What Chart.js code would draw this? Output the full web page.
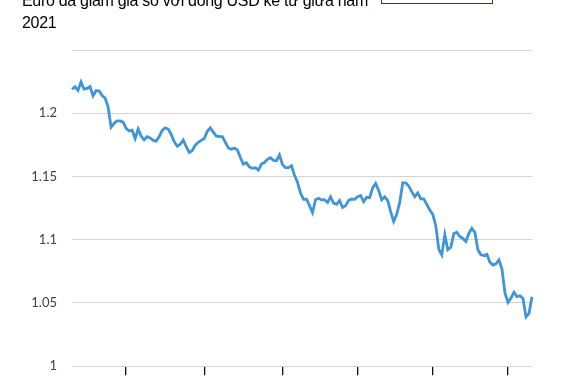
<!DOCTYPE html>
<html>
<head>
<meta charset="utf-8">
<script src="https://cdn.jsdelivr.net/npm/chart.js@4"></script>
<style>
  html, body { margin: 0; padding: 0; background: #fff; overflow: hidden; }
  #wrap { position: relative; width: 564px; height: 381px; overflow: hidden; }
  #title {
    position: absolute; left: 22px; top: -10px;
    font: 16px "Liberation Sans", Arial, sans-serif; line-height: 22px; color: #000;
    letter-spacing: -0.3px; white-space: nowrap;
  }
  #box {
    position: absolute; left: 381px; top: -30px; width: 110px; height: 32px;
    border: 1px solid #2b3b5e;
  }
  canvas { position: absolute; left: 0; top: 0; }
</style>
</head>
<body>
<div id="wrap">
  <!-- canvas is a bit taller than the view; the y axis reserves room below the plot -->
  <canvas id="chart" width="564" height="389"></canvas>
  <div id="title">Euro đã giảm giá so với đồng USD kể từ giữa năm<br>2021</div>
  <div id="box"></div>
</div>
<script>
// EUR/USD, mid-2021 onwards
const eurUsd = [
  1.219, 1.221, 1.218, 1.2248, 1.219, 1.2196, 1.221, 1.2137, 1.2178, 1.2177,
  1.214, 1.212, 1.205, 1.189, 1.192, 1.1939, 1.1939, 1.193, 1.188, 1.186,
  1.1866, 1.18, 1.1875, 1.182, 1.179, 1.1815, 1.1804, 1.1785, 1.178, 1.1816,
  1.1865, 1.1885, 1.1874, 1.1832, 1.1775, 1.1738, 1.1755, 1.1788, 1.1735, 1.169,
  1.1705, 1.1748, 1.177, 1.1785, 1.18, 1.1858, 1.1885, 1.185, 1.1819, 1.1816,
  1.1815, 1.177, 1.1725, 1.1715, 1.1725, 1.171, 1.165, 1.1598, 1.1608, 1.1576,
  1.1565, 1.1569, 1.155, 1.1598, 1.161, 1.1636, 1.1648, 1.1627, 1.1625, 1.167,
  1.1595, 1.157, 1.157, 1.1585, 1.151, 1.1455, 1.137, 1.132, 1.132, 1.127,
  1.1215, 1.1317, 1.1328, 1.1315, 1.1317, 1.1295, 1.1339, 1.129, 1.128, 1.131,
  1.1255, 1.127, 1.1312, 1.1322, 1.1319, 1.134, 1.135, 1.130, 1.1335, 1.1332,
  1.141, 1.1445, 1.139, 1.1315, 1.1339, 1.131, 1.122, 1.1145, 1.120, 1.1295,
  1.145, 1.145, 1.1425, 1.138, 1.134, 1.137, 1.1323, 1.1323, 1.128, 1.1235,
  1.12, 1.1111, 1.0925, 1.088, 1.104, 1.0921, 1.094, 1.105, 1.106, 1.1025,
  1.101, 1.0986, 1.105, 1.109, 1.1058, 1.092, 1.0881, 1.0875, 1.0885, 1.0822,
  1.080, 1.081, 1.084, 1.077, 1.058, 1.0505, 1.0538, 1.0585, 1.055, 1.0557,
  1.0535, 1.039, 1.0418, 1.055
];
const days = eurUsd.map((_, i) => i);
// days that carry a tick mark on the time axis
const tickDays = [18, 44, 70, 95, 120, 145];
const yTicks = [1, 1.05, 1.1, 1.15, 1.2];

new Chart(document.getElementById('chart'), {
  type: 'line',
  data: {
    labels: days,
    datasets: [{
      data: eurUsd,
      borderColor: '#3f95d8',
      borderWidth: 2.8,
      pointRadius: 0,
      tension: 0,
      fill: false
    }]
  },
  options: {
    responsive: false,
    animation: false,
    layout: { padding: { top: 50, right: 32, left: 0, bottom: 0 } },
    plugins: { legend: { display: false }, tooltip: { enabled: false } },
    scales: {
      x: {
        type: 'category',
        border: { display: false },
        grid: {
          drawOnChartArea: false,
          tickLength: 9,
          lineWidth: 1.3,
          color: ctx => tickDays.includes(ctx.index) ? '#111' : 'rgba(0,0,0,0)'
        },
        ticks: { autoSkip: false, maxRotation: 0, callback: () => '' },
        afterFit: s => { s.height = 6; }
      },
      y: {
        min: 1,
        max: 1.25,
        border: { display: false },
        grid: { color: '#d4d4d4', drawTicks: false },
        ticks: {
          stepSize: 0.05,
          padding: 15,
          color: '#404040',
          font: { family: 'Lato, "Liberation Sans", sans-serif', size: 13 },
          callback: v => {
            const n = parseFloat(v.toFixed(2));
            return yTicks.includes(n) ? String(n) : '';
          }
        },
        afterFit: s => { s.width = 72; }
      }
    }
  }
});
</script>
</body>
</html>
